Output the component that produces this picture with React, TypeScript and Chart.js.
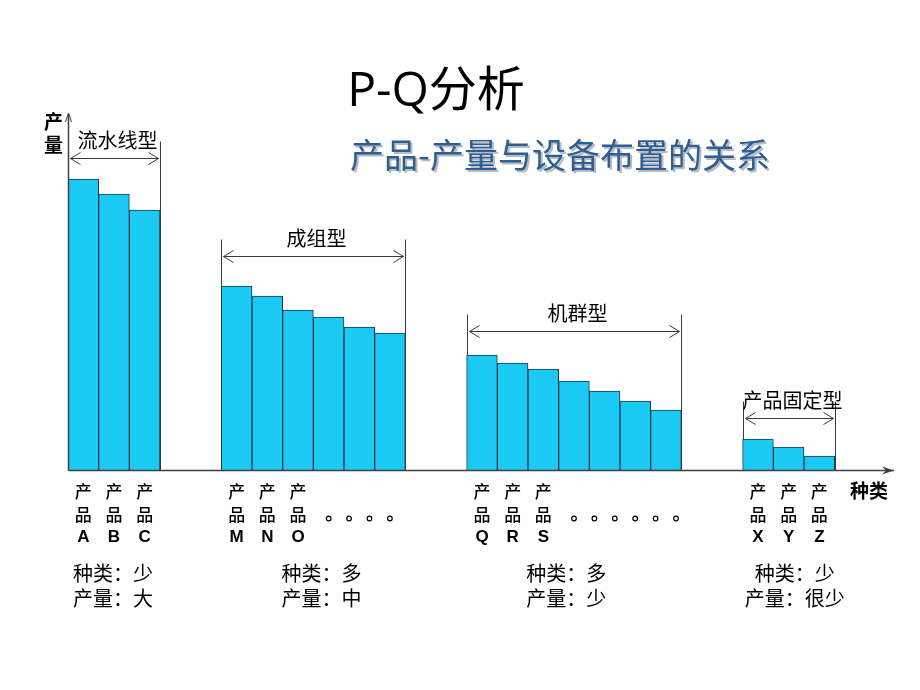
import React, { useEffect, useRef } from "react";
import { Chart, registerables } from "chart.js";

Chart.register(...registerables);

// ---- data ----
const categories = [
  "A", "B", "C", "", "",
  "M", "N", "O", "", "", "",
  "", "",
  "Q", "R", "S", "", "", "", "",
  "", "",
  "X", "Y", "Z", "", "",
];
const outputValues = [
  291, 276, 260, null, null,
  184, 174, 160, 153, 143, 137,
  null, null,
  115, 107, 101, 89, 79, 69, 60,
  null, null,
  31, 23, 14, null, null,
];
const groupNames = ["流水线型", "成组型", "机群型", "产品固定型"];
const groupStart = [0, 5, 13, 22];
const groupEnd = [2, 10, 19, 24];
const bracketLevel = [312, 214, 139, 52];
const labeledCount = [3, 3, 3, 3];
const dotCounts = [0, 4, 6, 0];
const varietyText = ["种类：少", "种类：多", "种类：多", "种类：少"];
const volumeText = ["产量：大", "产量：中", "产量：少", "产量：很少"];
const textAnchor = [0.97, 7.77, 15.75, 23.2];
const titleText = "P-Q分析";
const subtitleText = "产品-产量与设备布置的关系";
const yAxisTitle = ["产", "量"];
const xAxisTitle = "种类";
const Y_MAX = 350;

const CJK = '"Noto Sans CJK SC", "Noto Sans", sans-serif';

function chevron(ctx: CanvasRenderingContext2D, x: number, y: number, dir: number) {
  ctx.beginPath();
  ctx.moveTo(x + dir * -10, y - 6);
  ctx.lineTo(x, y);
  ctx.lineTo(x + dir * -10, y + 6);
  ctx.stroke();
}

const annotatePlugin = {
  id: "pqAnnotate",
  beforeDatasetsDraw(chart: any) {
    const ctx: CanvasRenderingContext2D = chart.ctx;
    const xs = chart.scales.x;
    const ys = chart.scales.y;
    const slot = xs.getPixelForValue(1) - xs.getPixelForValue(0);
    ctx.save();
    ctx.strokeStyle = "#3a3a3a";
    ctx.lineWidth = 1;
    for (let g = 0; g < groupNames.length; g++) {
      const x0 = Math.round(xs.getPixelForValue(groupStart[g]) - slot / 2) + 0.5;
      const x1 = Math.round(xs.getPixelForValue(groupEnd[g]) + slot / 2) + 0.5;
      const ya = Math.round(ys.getPixelForValue(bracketLevel[g])) + 0.5;
      const yTop = ya - 17;
      const base = ys.getPixelForValue(0);
      ctx.beginPath();
      ctx.moveTo(x0, yTop);
      ctx.lineTo(x0, base);
      ctx.moveTo(x1, yTop);
      ctx.lineTo(x1, base);
      ctx.moveTo(x0 + 2, ya);
      ctx.lineTo(x1 - 2, ya);
      ctx.stroke();
      chevron(ctx, x0 + 2, ya, -1);
      chevron(ctx, x1 - 2, ya, 1);
      ctx.fillStyle = "#000";
      ctx.font = `20px ${CJK}`;
      ctx.textAlign = "center";
      ctx.textBaseline = "middle";
      ctx.fillText(groupNames[g], (x0 + x1) / 2 + 3, yTop - 1);
    }
    ctx.restore();
  },
  afterDatasetsDraw(chart: any) {
    const ctx: CanvasRenderingContext2D = chart.ctx;
    const xs = chart.scales.x;
    const ys = chart.scales.y;
    const area = chart.chartArea;
    const slot = xs.getPixelForValue(1) - xs.getPixelForValue(0);
    const base = Math.round(ys.getPixelForValue(0)) + 0.5;
    const left = Math.round(area.left) + 0.5;
    ctx.save();
    // axes
    ctx.strokeStyle = "#404040";
    ctx.fillStyle = "#404040";
    ctx.lineWidth = 1.5;
    ctx.beginPath();
    ctx.moveTo(left, base);
    ctx.lineTo(area.right - 2, base);
    ctx.moveTo(left, base);
    ctx.lineTo(left, area.top - 6);
    ctx.stroke();
    // x arrow
    ctx.beginPath();
    ctx.moveTo(area.right - 2, base);
    ctx.lineTo(area.right - 14, base - 4);
    ctx.lineTo(area.right - 10, base);
    ctx.lineTo(area.right - 14, base + 4);
    ctx.closePath();
    ctx.fill();
    // y arrow
    ctx.lineWidth = 1;
    ctx.beginPath();
    ctx.moveTo(left - 3, area.top + 2);
    ctx.lineTo(left, area.top - 7);
    ctx.lineTo(left + 3, area.top + 2);
    ctx.stroke();

    // axis titles
    ctx.fillStyle = "#000";
    ctx.textAlign = "center";
    ctx.textBaseline = "middle";
    ctx.font = `bold 19px ${CJK}`;
    ctx.fillText(yAxisTitle[0], left - 15, area.top + 2);
    ctx.fillText(yAxisTitle[1], left - 15, area.top + 25);
    ctx.fillText(xAxisTitle, area.right - 27, base + 20);

    // product labels
    for (let g = 0; g < groupNames.length; g++) {
      for (let k = 0; k < labeledCount[g]; k++) {
        const idx = groupStart[g] + k;
        const x = xs.getPixelForValue(idx);
        ctx.font = `500 17px ${CJK}`;
        ctx.fillText("产", x, base + 21);
        ctx.fillText("品", x, base + 44);
        ctx.font = `bold 17px "Liberation Sans", Arial, sans-serif`;
        ctx.fillText(categories[idx], x, base + 67);
      }
      if (dotCounts[g] > 0) {
        const lastX = xs.getPixelForValue(groupStart[g] + labeledCount[g] - 1);
        ctx.strokeStyle = "#000";
        ctx.lineWidth = 1.2;
        for (let d = 0; d < dotCounts[g]; d++) {
          const dx = lastX + slot + d * 20.4;
          ctx.beginPath();
          ctx.arc(dx, base + 48, 2.3, 0, Math.PI * 2);
          ctx.stroke();
        }
      }
      const cx = xs.getPixelForValue(textAnchor[g]);
      ctx.font = `20px ${CJK}`;
      ctx.fillText(varietyText[g], cx, base + 103);
      ctx.fillText(volumeText[g], cx, base + 128);
    }

    // titles
    ctx.font = `48px "Open Sans", "Noto Sans CJK SC", sans-serif`;
    ctx.textBaseline = "alphabetic";
    ctx.fillStyle = "#000";
    ctx.fillText(titleText, 436, 106);

    ctx.font = `34px ${CJK}`;
    ctx.textBaseline = "middle";
    ctx.fillStyle = "#b8bcc4";
    ctx.fillText(subtitleText, 562, 157);
    ctx.fillStyle = "#2f5f92";
    ctx.fillText(subtitleText, 560, 155);
    ctx.restore();
  },
};

export default function App() {
  const ref = useRef<HTMLCanvasElement | null>(null);
  useEffect(() => {
    if (!ref.current) return;
    const chart = new Chart(ref.current, {
      type: "bar",
      data: {
        labels: categories,
        datasets: [
          {
            data: outputValues as any,
            backgroundColor: "#1ac9f4",
            borderColor: "#1e3a48",
            borderWidth: 1,
            barPercentage: 1,
            categoryPercentage: 1,
          },
        ],
      },
      options: {
        responsive: false,
        animation: false,
        devicePixelRatio: 1,
        layout: { padding: { left: 68, right: 24, top: 120, bottom: 220 } },
        scales: {
          x: { display: false },
          y: { display: false, min: 0, max: Y_MAX },
        },
        plugins: {
          legend: { display: false },
          tooltip: { enabled: false },
          title: { display: false },
        },
      },
      plugins: [annotatePlugin],
    });
    return () => chart.destroy();
  }, []);
  return (
    <div style={{ position: "fixed", left: 0, top: 0, width: 920, height: 690, background: "#fff" }}>
      <canvas ref={ref} width={920} height={690} style={{ width: 920, height: 690 }} />
    </div>
  );
}
